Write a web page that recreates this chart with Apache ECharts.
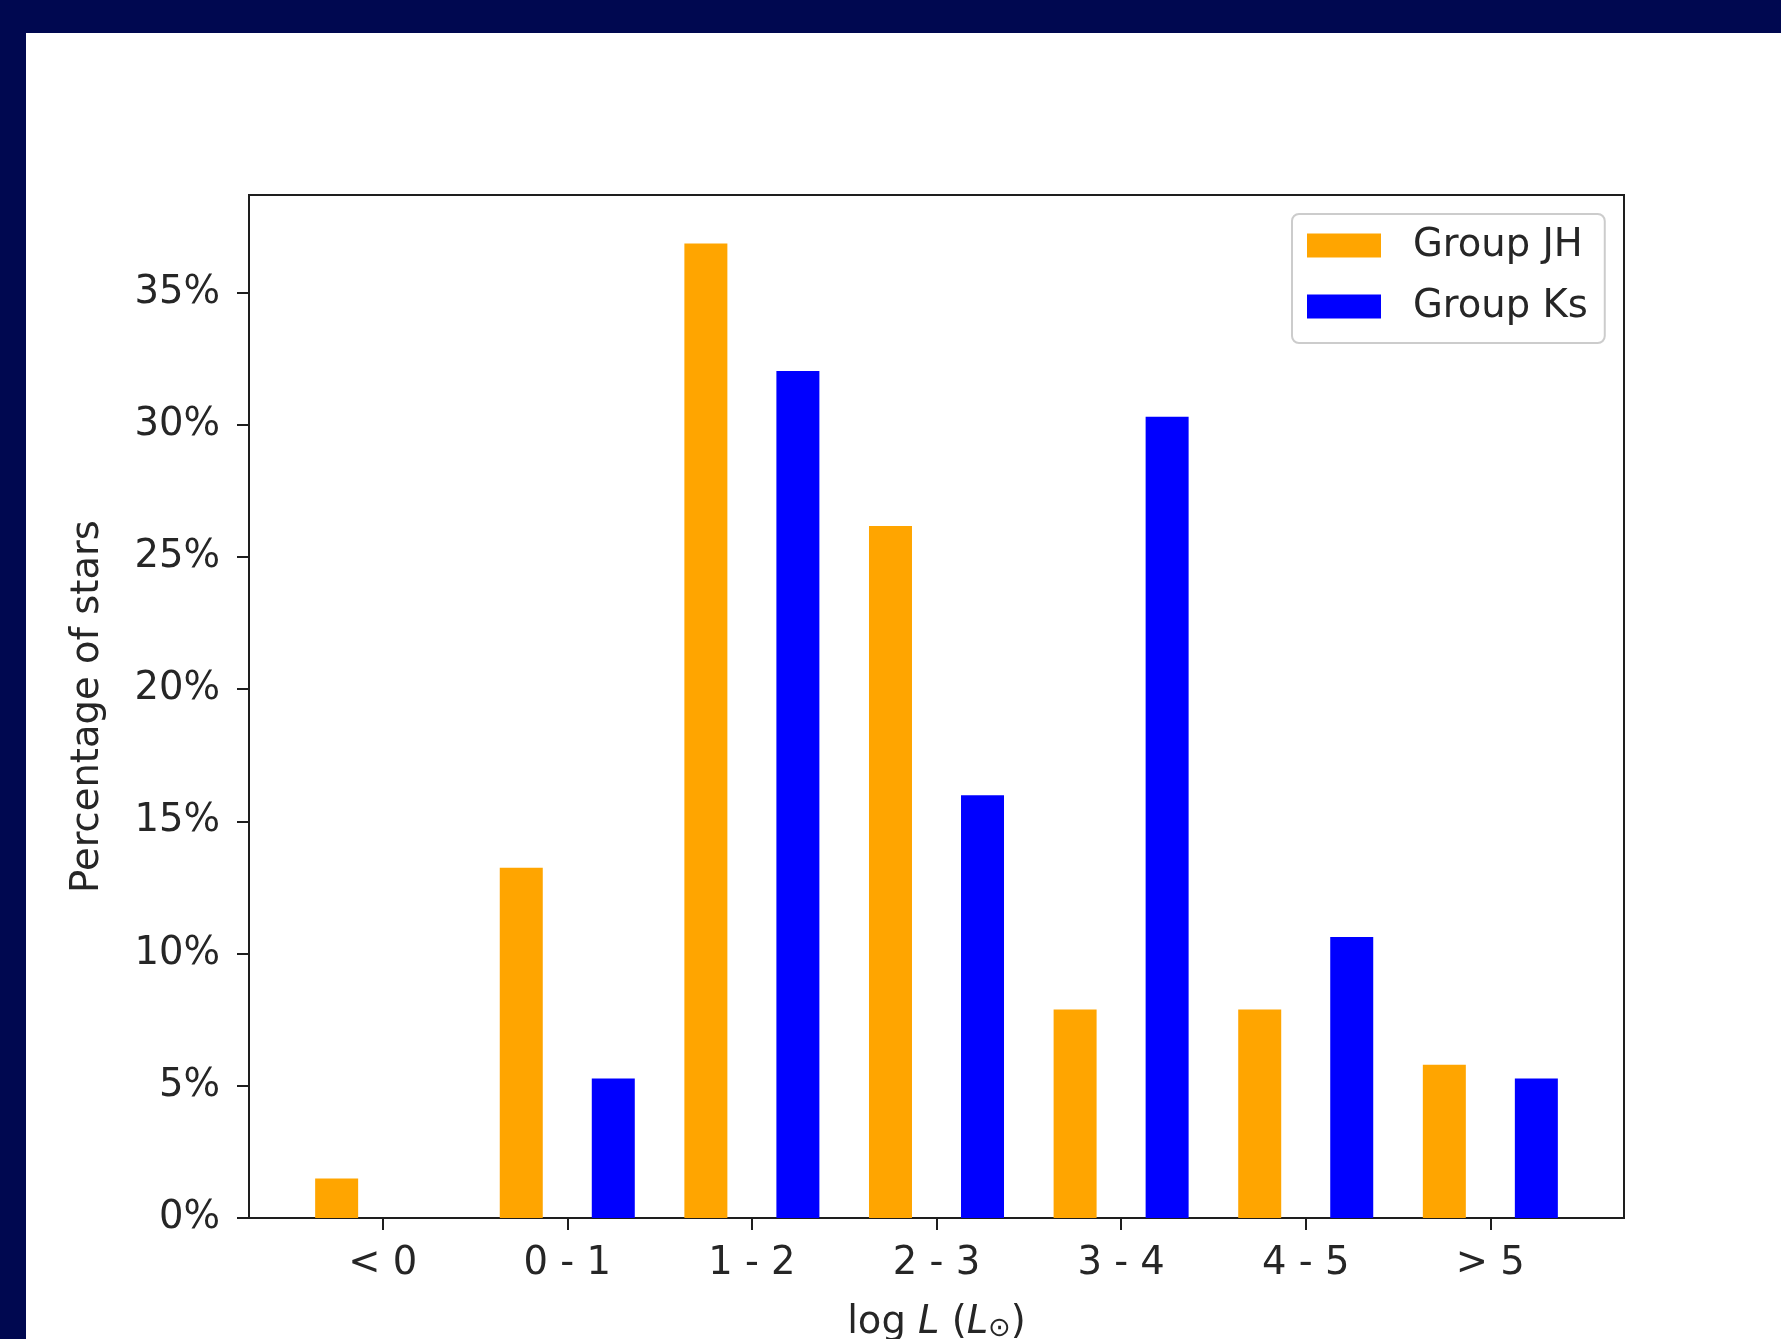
<!DOCTYPE html>
<html>
<head>
<meta charset="utf-8">
<title>Luminosity distribution</title>
<script src="https://cdn.jsdelivr.net/npm/echarts@6/dist/echarts.min.js"></script>
<style>
  html, body { margin: 0; padding: 0; width: 1781px; height: 1339px; overflow: hidden; background: #000850; }
  #panel { position: absolute; left: 26px; top: 33px; right: 0; bottom: 0; background: #ffffff; }
  #chart { position: absolute; left: 0; top: 0; width: 1781px; height: 1339px; }
</style>
</head>
<body>
<div id="panel"></div>
<div id="chart"></div>
<script>
// Luminosity bins (log L in solar units)
const categories = ['< 0', '0 - 1', '1 - 2', '2 - 3', '3 - 4', '4 - 5', '> 5'];
// Percentage of stars per bin
const groupJH = [1.49, 13.25, 36.86, 26.17, 7.89, 7.89, 5.80];
const groupKs = [0, 5.28, 32.03, 15.99, 30.30, 10.63, 5.28];
// Y tick values (percent)
const yTicks = [0, 5, 10, 15, 20, 25, 30, 35];
const xTicks = categories.map((c, i) => i);

const FONT = 'DejaVu Sans';
const FS = 38.5;
const INK = '#1e1e1e';
const TEXT = '#262626';

const chart = echarts.init(document.getElementById('chart'), null, { renderer: 'canvas' });

chart.setOption({
  backgroundColor: 'transparent',
  animation: false,
  textStyle: { fontFamily: FONT },
  grid: {
    left: 249, top: 195, width: 1375, height: 1023,
    show: true, borderColor: INK, borderWidth: 2, backgroundColor: 'transparent',
    containLabel: false,
    outerBoundsMode: 'none'
  },
  legend: {
    orient: 'vertical',
    left: 1292, top: 214,
    icon: 'rect',
    itemWidth: 74, itemHeight: 24, itemGap: 22,
    padding: [12, 17, 17, 15],
    backgroundColor: 'rgba(255,255,255,0.85)',
    borderColor: '#cccccc', borderWidth: 2, borderRadius: 7,
    textStyle: { fontFamily: FONT, fontSize: FS, color: TEXT, padding: [0, 0, 0, 27] },
    data: ['Group JH', 'Group Ks']
  },
  xAxis: {
    type: 'value',
    min: -0.724, max: 6.724,
    splitLine: { show: false },
    axisLine: { show: true, onZero: false, lineStyle: { color: INK, width: 2 } },
    axisTick: { show: true, length: 12, customValues: xTicks, lineStyle: { color: INK, width: 2 } },
    axisLabel: {
      customValues: xTicks,
      formatter: v => categories[Math.round(v)],
      fontFamily: FONT, fontSize: FS, color: TEXT, lineHeight: 38, margin: 27
    },
    name: '{n|log }{i|L}{n| (}{i|L}{s|⊙}{n|)}',
    nameLocation: 'middle',
    nameGap: 86,
    nameTextStyle: {
      fontFamily: FONT, fontSize: FS, color: TEXT, lineHeight: 38,
      rich: {
        n: { fontFamily: FONT, fontSize: FS, color: TEXT, lineHeight: 38 },
        i: { fontFamily: FONT, fontSize: FS, color: TEXT, fontStyle: 'italic', lineHeight: 38 },
        s: { fontFamily: FONT, fontSize: 27, color: TEXT, lineHeight: 27, verticalAlign: 'bottom' }
      }
    }
  },
  yAxis: {
    type: 'value',
    min: 0, max: 38.69,
    splitLine: { show: false },
    axisLine: { show: true, onZero: false, lineStyle: { color: INK, width: 2 } },
    axisTick: { show: true, length: 12, customValues: yTicks, lineStyle: { color: INK, width: 2 } },
    axisLabel: {
      customValues: yTicks,
      formatter: v => v + '%',
      fontFamily: FONT, fontSize: FS, color: TEXT, margin: 29, padding: [10, 0, 0, 0]
    },
    name: 'Percentage of stars',
    nameLocation: 'middle',
    nameRotate: 90,
    nameGap: 142,
    nameTextStyle: { fontFamily: FONT, fontSize: FS, color: TEXT, lineHeight: 38 }
  },
  series: [
    {
      name: 'Group JH', type: 'bar',
      data: groupJH.map((v, i) => [i, v]),
      barWidth: 43, barGap: '114%',
      itemStyle: { color: '#FFA500' }
    },
    {
      name: 'Group Ks', type: 'bar',
      data: groupKs.map((v, i) => [i, v]),
      barWidth: 43, barGap: '114%',
      itemStyle: { color: '#0000FF' }
    }
  ]
});
</script>
</body>
</html>
